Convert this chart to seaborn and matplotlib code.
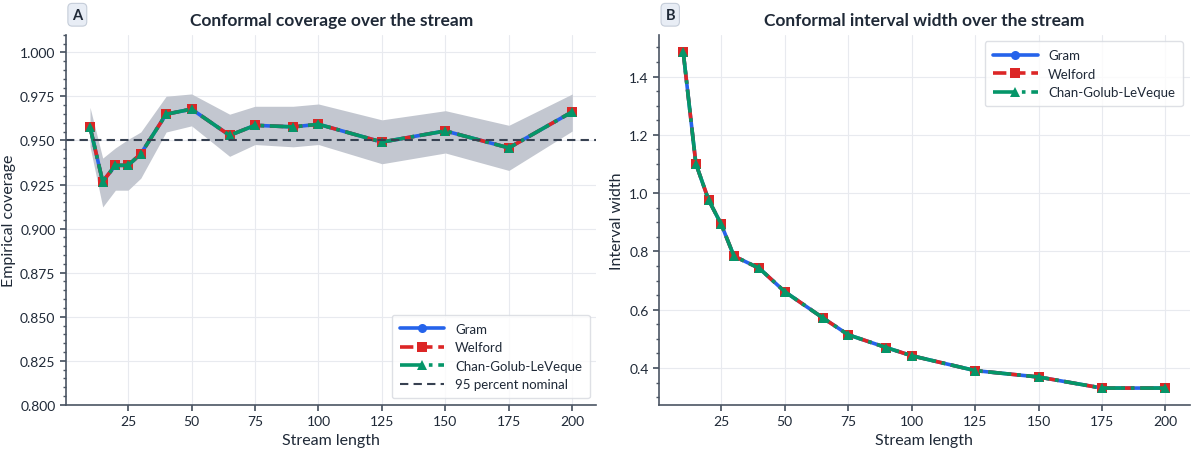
import matplotlib
matplotlib.use("Agg")
import numpy as np
import pandas as pd
import matplotlib.pyplot as plt
import seaborn as sns
from matplotlib.ticker import AutoMinorLocator

# ===========================
# Data
# ===========================
stream_length = [10, 15, 20, 25, 30, 40, 50, 65, 75, 90, 100, 125, 150, 175, 200]

coverage = [0.9577, 0.9267, 0.9359, 0.9359, 0.9424, 0.9649, 0.9678, 0.9529,
            0.9586, 0.9577, 0.9592, 0.9491, 0.9554, 0.9458, 0.9663]
coverage_lo = [0.9466, 0.9123, 0.9218, 0.9218, 0.9286, 0.9548, 0.9583, 0.9410,
               0.9477, 0.9464, 0.9477, 0.9368, 0.9429, 0.9330, 0.9554]
coverage_hi = [0.9688, 0.9400, 0.9458, 0.9506, 0.9548, 0.9751, 0.9764, 0.9649,
               0.9694, 0.9694, 0.9707, 0.9617, 0.9669, 0.9586, 0.9764]

interval_width = [1.486, 1.101, 0.977, 0.893, 0.784, 0.742, 0.662, 0.572,
                  0.514, 0.470, 0.442, 0.391, 0.369, 0.331, 0.331]

methods = ["Gram", "Welford", "Chan-Golub-LeVeque"]
nominal = 0.95

# ===========================
# Styling
# ===========================
sns.set_theme(style="ticks")
plt.rcParams["font.family"] = ["Lato", "DejaVu Sans"]

styles = {
    "Gram": dict(color="#2563eb", linestyle="-", marker="o"),
    "Welford": dict(color="#dc2626", linestyle="--", marker="s"),
    "Chan-Golub-LeVeque": dict(color="#059669", linestyle="-.", marker="^"),
}
spine_col = "#4b5563"
text_col = "#1f2937"


def style_axes(ax):
    sns.despine(ax=ax)
    for s in ["left", "bottom"]:
        ax.spines[s].set_color(spine_col)
        ax.spines[s].set_linewidth(1.2)
    ax.grid(True, color="#e8eaef", linewidth=0.8)
    ax.set_axisbelow(True)
    ax.yaxis.set_minor_locator(AutoMinorLocator())
    ax.tick_params(axis="both", which="major", colors=spine_col, labelcolor=text_col,
                   labelsize=10, length=4)
    ax.tick_params(axis="y", which="minor", colors=spine_col, length=2.5)


def panel_label(ax, letter):
    ax.text(0.012, 1.035, letter, transform=ax.transAxes, fontsize=10.5, fontweight="bold",
            color=text_col, ha="left", va="bottom",
            bbox=dict(boxstyle="round,pad=0.3", facecolor="#e8edf5", edgecolor="#c5cdd9",
                      linewidth=0.8))


def draw_methods(ax, values):
    for m in methods:
        df = pd.DataFrame({"Stream length": stream_length, "value": values})
        sns.lineplot(data=df, x="Stream length", y="value", ax=ax, label=m,
                     linewidth=2.6, markersize=6.5, markeredgewidth=0,
                     **styles[m])


fig, axes = plt.subplots(1, 2, figsize=(11.98, 4.52), dpi=100)
fig.subplots_adjust(left=0.055, right=0.993, bottom=0.102, top=0.921, wspace=0.118)

legend_kw = dict(fontsize=9.5, frameon=True, edgecolor="#d6d9df", handlelength=3.4,
                 borderpad=0.6, labelcolor=text_col)

# ===========================
# Panel A: coverage
# ===========================
ax = axes[0]
ax.fill_between(stream_length, coverage_lo, coverage_hi, color="#c3c7d0", linewidth=0)
draw_methods(ax, coverage)
ax.axhline(nominal, color="#374151", linestyle=(0, (4, 2.5)), linewidth=1.5,
           label="95 percent nominal")
ax.set_ylim(0.8, 1.01)
ax.set_yticks(np.arange(0.8, 1.001, 0.025))
ax.set_xticks([25, 50, 75, 100, 125, 150, 175, 200])
ax.set_xlabel("Stream length", fontsize=11.5, color=text_col)
ax.set_ylabel("Empirical coverage", fontsize=11.5, color=text_col, labelpad=3)
ax.set_title("Conformal coverage over the stream", fontsize=12.5, fontweight="bold",
             color=text_col, pad=7)
style_axes(ax)
ax.legend(loc="lower right", **legend_kw)
panel_label(ax, "A")

# ===========================
# Panel B: interval width
# ===========================
ax = axes[1]
draw_methods(ax, interval_width)
ax.set_xticks([25, 50, 75, 100, 125, 150, 175, 200])
ax.set_xlabel("Stream length", fontsize=11.5, color=text_col)
ax.set_ylabel("Interval width", fontsize=11.5, color=text_col, labelpad=4)
ax.set_title("Conformal interval width over the stream", fontsize=12.5, fontweight="bold",
             color=text_col, pad=7)
style_axes(ax)
ax.legend(loc="upper right", **legend_kw)
panel_label(ax, "B")

fig.savefig("out.png", dpi=100)
